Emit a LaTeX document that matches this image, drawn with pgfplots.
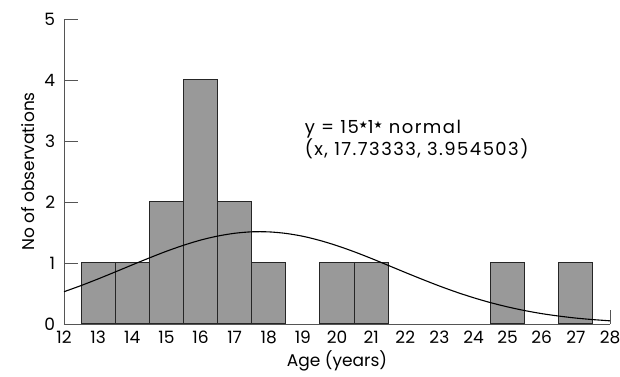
\documentclass[border=0pt]{standalone}
\usepackage{fontspec}
\setmainfont{Poppins}[Numbers=Monospaced]
\newfontfamily\djv{DejaVu Sans}
\usepackage{pgfplots}
\pgfplotsset{compat=1.18}
\definecolor{axgray}{HTML}{555555}
\definecolor{barfill}{HTML}{999999}
\newcommand{\st}{\raisebox{5pt}{\djv\fontsize{10}{10}\selectfont ★}}
\begin{document}
\fontsize{17}{20}\selectfont
\begin{tikzpicture}
\begin{axis}[
  scale only axis,
  width=546pt, height=305pt,
  xmin=12, xmax=28, ymin=0, ymax=5,
  axis lines*=left,
  axis line style={draw=axgray, line width=0.8pt},
  xtick={12,...,28}, ytick={0,...,5},
  tick align=inside,
  major tick length=14pt,
  xtick style={draw=none},
  ytick style={draw=axgray, line width=0.8pt},
  extra x ticks={28},
  extra x tick labels={},
  extra x tick style={xtick style={draw=axgray, line width=0.8pt}},
  /pgf/number format/assume math mode=true,
  ticklabel style={font=\fontsize{17}{20}\selectfont},
  yticklabel style={xshift=-3pt},
  xticklabel style={yshift=-1pt},
  xlabel={Age (years)},
  ylabel={No of observations},
  label style={font=\fontsize{17}{20}\selectfont},
  xlabel style={yshift=5pt},
  ylabel style={yshift=-2pt},
  clip=false,
]
\addplot[ybar, bar width=1, fill=barfill, draw=black!85, line width=1pt] coordinates {
 (13,1) (14,1) (15,2) (16,4) (17,2) (18,1) (20,1) (21,1) (25,1) (27,1)
};
\addplot[black, line width=1.1pt, smooth, mark=none] coordinates {
 (12,0.529) (12.5,0.630) (13,0.739) (13.5,0.853) (14,0.969) (14.5,1.083)
 (15,1.192) (15.5,1.290) (16,1.375) (16.5,1.441) (17,1.487) (17.5,1.511)
 (18,1.510) (18.5,1.485) (19,1.438) (19.5,1.369) (20,1.284) (20.5,1.185)
 (21,1.076) (21.5,0.961) (22,0.845) (22.5,0.732) (23,0.623) (23.5,0.522)
 (24,0.431) (24.5,0.350) (25,0.280) (25.5,0.220) (26,0.170) (26.5,0.130)
 (27,0.097) (27.5,0.072) (28,0.052)
};
\node[anchor=north west, align=left, inner sep=0pt, font=\fontsize{18}{19}\selectfont\addfontfeatures{LetterSpace=8}] at (axis cs:19.05,3.35)
  {y = 15\st1\st{} normal\\(x, 17.73333, 3.954503)};
\coordinate (ll) at (rel axis cs:0,0);
\coordinate (ur) at (rel axis cs:1,1);
\end{axis}
\pgfresetboundingbox
\path ([shift={(-64pt,-53pt)}]ll) rectangle ([shift={(10pt,19pt)}]ur);
\end{tikzpicture}
\end{document}
